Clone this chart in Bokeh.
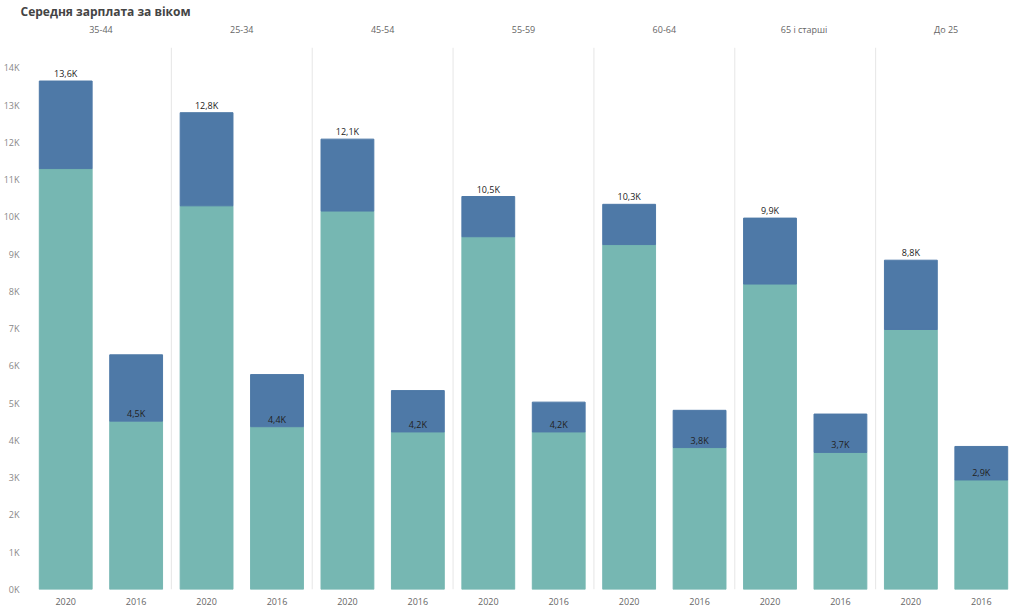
from bokeh.plotting import figure
from bokeh.models import ColumnDataSource, Span, LinearAxis, FixedTicker, Range1d
from bokeh.embed import file_html
from bokeh.resources import INLINE
from bokeh.core.properties import value

groups = ["35-44", "25-34", "45-54", "55-59", "60-64", "65  і старші", "До 25"]
years = ["2020", "2016"]
teal_2020 = [11.3, 10.3, 10.16, 9.47, 9.26, 8.2, 6.98]
total_2020 = [13.65, 12.8, 12.09, 10.55, 10.34, 9.97, 8.84]
teal_2016 = [4.52, 4.37, 4.23, 4.23, 3.81, 3.68, 2.94]
total_2016 = [6.3, 5.77, 5.34, 5.03, 4.81, 4.71, 3.84]
labels_2020 = ["13,6K", "12,8K", "12,1K", "10,5K", "10,3K", "9,9K", "8,8K"]
labels_2016 = ["4,5K", "4,4K", "4,2K", "4,2K", "3,8K", "3,7K", "2,9K"]

FONT = "Open Sans"
xs, teal, total, lab, laby = [], [], [], [], []
for g in range(len(groups)):
    xs += [2 * g + 0.5, 2 * g + 1.5]
    teal += [teal_2020[g], teal_2016[g]]
    total += [total_2020[g], total_2016[g]]
    lab += [labels_2020[g], labels_2016[g]]
    laby += [total_2020[g], teal_2016[g]]
src = ColumnDataSource(dict(x=xs, teal=teal, total=total, lab=lab, laby=laby))

p = figure(width=1016, height=607, output_backend="svg", toolbar_location=None,
           x_range=Range1d(0, 2 * len(groups)), y_range=Range1d(0, 14.55),
           x_axis_location=None, y_axis_location=None)
p.title.text = "Середня зарплата за віком"
p.title.text_font = FONT
p.title.text_font_size = "12px"
p.title.text_color = "#444444"
p.title.offset = -10
p.title.standoff = 0
p.outline_line_color = None
p.xgrid.visible = False
p.ygrid.visible = False
p.min_border_left = 0
p.min_border_right = 0
p.min_border_top = 0
p.min_border_bottom = 0

p.vbar(x="x", bottom=0, top="teal", width=0.75, color="#76b7b2", source=src)
p.vbar(x="x", bottom="teal", top="total", width=0.75, color="#4e79a7", source=src)
p.text(x="x", y="laby", text="lab", source=src, text_align="center", text_baseline="bottom",
       y_offset=-1, text_font=value(FONT), text_font_size="9px", text_color="#222222")

for g in range(1, len(groups)):
    p.add_layout(Span(location=2 * g, dimension="height", line_color="#e6e6e6", line_width=1))

def style(ax):
    ax.axis_line_color = None
    ax.major_tick_line_color = None
    ax.minor_tick_line_color = None
    ax.major_label_text_font = FONT
    ax.major_label_text_font_size = "9px"
    ax.major_label_text_color = "#666666"

yax = LinearAxis(ticker=FixedTicker(ticks=list(range(15))))
yax.major_label_overrides = {i: f"{i}K" for i in range(15)}
style(yax)
yax.major_label_text_color = "#888888"
p.add_layout(yax, "left")

bax = LinearAxis(ticker=FixedTicker(ticks=xs))
bax.major_label_overrides = {x: years[i % 2] for i, x in enumerate(xs)}
style(bax)
bax.major_label_standoff = 2
p.add_layout(bax, "below")

tax = LinearAxis(ticker=FixedTicker(ticks=[2 * g + 1 for g in range(len(groups))]))
tax.major_label_overrides = {2 * g + 1: groups[g] for g in range(len(groups))}
style(tax)
tax.major_label_standoff = 6
p.add_layout(tax, "above")

open("out.html", "w").write(file_html(p, INLINE))
